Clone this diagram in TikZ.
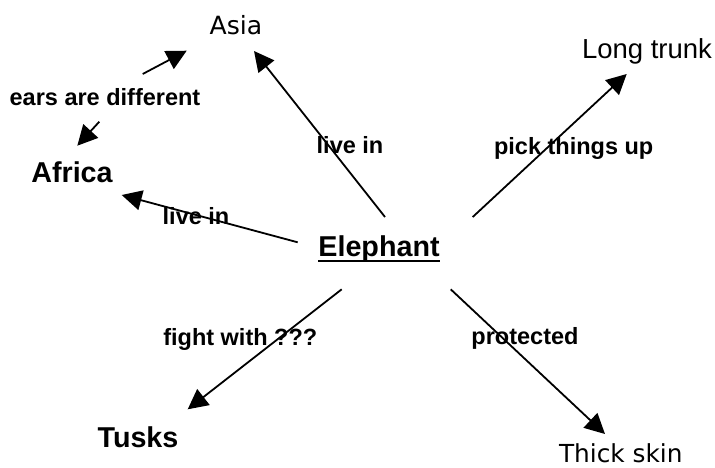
\documentclass[tikz,border=0pt]{standalone}
\usepackage{fontspec}
\setmainfont{Liberation Sans}
\newfontfamily\dejavu{DejaVu Sans}
\usetikzlibrary{arrows.meta}
\begin{document}
\begin{tikzpicture}[x=1pt,y=-1pt,
  lbl/.style={inner sep=0pt,anchor=base,font=\bfseries\fontsize{23.5}{28}\selectfont},
  big/.style={inner sep=0pt,anchor=base,font=\bfseries\fontsize{28.7}{34}\selectfont},
  plain/.style={inner sep=0pt,anchor=base,font=\fontsize{25.7}{30}\selectfont},
  verd/.style={inner sep=0pt,anchor=base,font=\dejavu\fontsize{24.8}{29}\selectfont},
  conn/.style={line width=1.8pt,-{Triangle[length=20pt,width=20pt]}}]
\useasboundingbox (0,0) rectangle (715,467);
% concept nodes
\node[verd,font=\dejavu\fontsize{25.1}{30}\selectfont] (asia) at (236,34) {Asia};
\node[plain,font=\fontsize{27.5}{32}\selectfont] (trunk) at (647,58) {Long trunk};
\node[big] (africa) at (72,182) {Africa};
\node[big] (eleph) at (379,256) {Elephant};
\node[big] (tusks) at (138,447) {Tusks};
\node[verd] (skin) at (620.8,462.5) {Thick skin};
\draw[line width=2.8pt] ([yshift=-5pt]eleph.base west) -- ([yshift=-5pt]eleph.base east);
% labels
\node[lbl] (ears) at (105,105.3) {ears are different};
\node[lbl] (live1) at (350,153.5) {live in};
\node[lbl] (pick) at (573.7,154) {pick things up};
\node[lbl] (live2) at (196,224) {live in};
\node[lbl] (fight) at (240.3,345) {fight with ???};
\node[lbl] (prot) at (525,344.3) {protected};
% connector ends
\coordinate (sA) at (385,217);   \coordinate (tA) at (254,51);
\coordinate (sT) at (472.7,217); \coordinate (tT) at (626.7,74);
\coordinate (sF) at (297.7,242.3); \coordinate (tF) at (121.7,195);
\coordinate (sU) at (341.7,289.3); \coordinate (tU) at (187.7,409.3);
\coordinate (sS) at (450.7,289.3); \coordinate (tS) at (605,434);
\coordinate (sE1) at (142.7,74); \coordinate (tE1) at (186.7,50.7);
\coordinate (sE2) at (99.3,121.7); \coordinate (tE2) at (77.3,145.7);
\draw[conn] (sA) -- (tA);
\draw[conn] (sT) -- (tT);
\draw[conn] (sF) -- (tF);
\draw[conn] (sU) -- (tU);
\draw[conn] (sS) -- (tS);
\draw[conn] (sE1) -- (tE1);
\draw[conn] (sE2) -- (tE2);
\end{tikzpicture}
\end{document}
